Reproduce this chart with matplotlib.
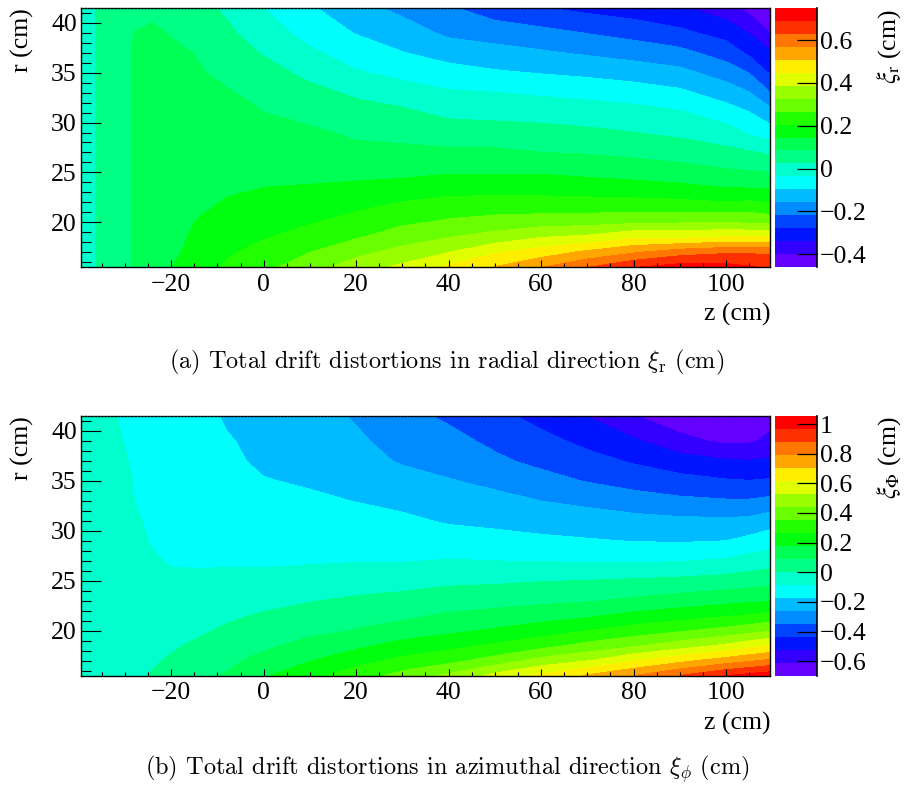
import colorsys
import numpy as np
import matplotlib
matplotlib.use("Agg")
from matplotlib import pyplot as plt
from matplotlib.ticker import MultipleLocator, FuncFormatter

plt.rcParams['font.family'] = ['Liberation Serif', 'DejaVu Serif']
plt.rcParams['mathtext.fontset'] = 'stix'

# sampling nodes (cm)
r_nodes = [15.5, 17, 18.5, 20, 21.5, 23, 25, 27, 29, 31, 33, 35, 37, 39, 41.5]
z_nodes_a = [-39.5, -37, -33, -28, -24, -20, -14, -8, 0, 10, 20, 30, 40, 50, 60, 70, 80, 90, 100, 105, 109.5]
z_nodes_b = [-39.5, -34, -30, -27, -24, -20, -14, -8, 0, 10, 20, 30, 40, 50, 60, 70, 80, 90, 100, 105, 109.5]

# (a) radial distortion xi_r (cm), one row per r node
xi_r = [
    [0.00, 0.02, 0.05, 0.09, 0.125, 0.145, 0.18, 0.215, 0.25, 0.30, 0.355, 0.40, 0.46, 0.51, 0.565, 0.625, 0.685, 0.715, 0.71, 0.695, 0.68],
    [0.00, 0.02, 0.05, 0.09, 0.115, 0.13, 0.17, 0.195, 0.23, 0.265, 0.31, 0.345, 0.385, 0.44, 0.475, 0.52, 0.56, 0.60, 0.62, 0.62, 0.62],
    [0.00, 0.02, 0.05, 0.09, 0.115, 0.125, 0.16, 0.18, 0.20, 0.235, 0.26, 0.30, 0.325, 0.35, 0.385, 0.40, 0.44, 0.435, 0.45, 0.45, 0.45],
    [0.00, 0.02, 0.05, 0.09, 0.115, 0.12, 0.15, 0.17, 0.18, 0.20, 0.23, 0.255, 0.275, 0.29, 0.30, 0.305, 0.315, 0.32, 0.325, 0.315, 0.31],
    [0.00, 0.02, 0.05, 0.09, 0.115, 0.12, 0.135, 0.155, 0.165, 0.18, 0.195, 0.22, 0.235, 0.24, 0.24, 0.24, 0.24, 0.24, 0.23, 0.24, 0.225],
    [0.00, 0.02, 0.05, 0.09, 0.115, 0.115, 0.125, 0.14, 0.15, 0.155, 0.165, 0.18, 0.195, 0.195, 0.195, 0.19, 0.185, 0.175, 0.16, 0.16, 0.16],
    [0.00, 0.02, 0.05, 0.09, 0.115, 0.115, 0.12, 0.13, 0.13, 0.13, 0.13, 0.13, 0.14, 0.14, 0.14, 0.13, 0.12, 0.11, 0.095, 0.09, 0.085],
    [0.00, 0.02, 0.05, 0.09, 0.115, 0.115, 0.115, 0.12, 0.12, 0.11, 0.10, 0.10, 0.095, 0.095, 0.085, 0.08, 0.07, 0.06, 0.04, 0.03, 0.015],
    [0.00, 0.02, 0.05, 0.09, 0.115, 0.115, 0.115, 0.11, 0.10, 0.095, 0.075, 0.065, 0.055, 0.05, 0.045, 0.035, 0.025, 0.01, -0.01, -0.045, -0.07],
    [0.00, 0.02, 0.05, 0.09, 0.115, 0.115, 0.115, 0.10, 0.085, 0.065, 0.045, 0.035, 0.01, 0.005, 0.00, -0.005, -0.015, -0.03, -0.07, -0.095, -0.135],
    [0.00, 0.02, 0.05, 0.09, 0.115, 0.115, 0.105, 0.09, 0.065, 0.04, 0.015, -0.005, -0.03, -0.035, -0.045, -0.055, -0.065, -0.085, -0.125, -0.155, -0.215],
    [0.00, 0.02, 0.05, 0.09, 0.115, 0.115, 0.09, 0.07, 0.045, 0.01, -0.03, -0.055, -0.075, -0.09, -0.10, -0.11, -0.125, -0.14, -0.185, -0.22, -0.285],
    [0.00, 0.02, 0.05, 0.09, 0.115, 0.10, 0.08, 0.05, 0.02, -0.025, -0.065, -0.095, -0.12, -0.135, -0.15, -0.165, -0.18, -0.20, -0.245, -0.29, -0.33],
    [0.00, 0.02, 0.05, 0.085, 0.095, 0.08, 0.06, 0.035, -0.005, -0.06, -0.10, -0.125, -0.17, -0.185, -0.20, -0.22, -0.24, -0.265, -0.30, -0.34, -0.40],
    [0.00, 0.02, 0.05, 0.065, 0.07, 0.06, 0.04, 0.015, -0.035, -0.09, -0.135, -0.175, -0.21, -0.25, -0.275, -0.295, -0.31, -0.33, -0.375, -0.42, -0.455],
]

# (b) azimuthal distortion xi_phi (cm)
xi_phi = [
    [-0.04, -0.03, -0.02, -0.008, 0.01, 0.035, 0.065, 0.10, 0.17, 0.24, 0.31, 0.385, 0.46, 0.555, 0.634, 0.713, 0.79, 0.879, 0.966, 0.993, 1.019],
    [-0.04, -0.035, -0.025, -0.015, -0.005, 0.013, 0.04, 0.07, 0.12, 0.175, 0.236, 0.288, 0.328, 0.39, 0.472, 0.525, 0.61, 0.678, 0.745, 0.778, 0.806],
    [-0.04, -0.04, -0.03, -0.025, -0.015, -0.007, 0.02, 0.044, 0.074, 0.122, 0.16, 0.21, 0.242, 0.28, 0.323, 0.38, 0.428, 0.485, 0.545, 0.586, 0.616],
    [-0.04, -0.04, -0.035, -0.035, -0.025, -0.022, -0.01, 0.017, 0.044, 0.07, 0.096, 0.13, 0.16, 0.19, 0.227, 0.266, 0.307, 0.343, 0.383, 0.407, 0.433],
    [-0.04, -0.045, -0.04, -0.04, -0.035, -0.037, -0.025, -0.01, 0.013, 0.035, 0.057, 0.074, 0.103, 0.12, 0.14, 0.166, 0.203, 0.23, 0.259, 0.275, 0.293],
    [-0.04, -0.045, -0.045, -0.05, -0.045, -0.05, -0.04, -0.035, -0.022, 0.0, 0.017, 0.03, 0.052, 0.061, 0.074, 0.085, 0.107, 0.131, 0.153, 0.164, 0.173],
    [-0.04, -0.05, -0.05, -0.06, -0.06, -0.07, -0.065, -0.065, -0.057, -0.049, -0.035, -0.027, -0.014, -0.009, 0.0, 0.006, 0.015, 0.024, 0.038, 0.05, 0.061],
    [-0.04, -0.055, -0.055, -0.065, -0.075, -0.09, -0.095, -0.093, -0.097, -0.092, -0.088, -0.088, -0.079, -0.084, -0.088, -0.092, -0.096, -0.088, -0.072, -0.05, -0.034],
    [-0.04, -0.06, -0.06, -0.07, -0.09, -0.10, -0.11, -0.105, -0.12, -0.11, -0.114, -0.12, -0.132, -0.14, -0.154, -0.164, -0.174, -0.179, -0.171, -0.147, -0.125],
    [-0.04, -0.06, -0.065, -0.08, -0.095, -0.105, -0.12, -0.12, -0.136, -0.13, -0.145, -0.154, -0.18, -0.193, -0.206, -0.219, -0.23, -0.24, -0.243, -0.237, -0.208],
    [-0.04, -0.065, -0.07, -0.09, -0.10, -0.11, -0.125, -0.13, -0.15, -0.158, -0.173, -0.193, -0.22, -0.237, -0.259, -0.278, -0.306, -0.328, -0.338, -0.338, -0.324],
    [-0.04, -0.065, -0.075, -0.09, -0.105, -0.115, -0.13, -0.14, -0.167, -0.18, -0.202, -0.228, -0.254, -0.276, -0.315, -0.351, -0.381, -0.405, -0.425, -0.431, -0.424],
    [-0.04, -0.07, -0.08, -0.095, -0.11, -0.12, -0.135, -0.155, -0.185, -0.197, -0.228, -0.267, -0.285, -0.33, -0.368, -0.404, -0.443, -0.482, -0.512, -0.518, -0.509],
    [-0.04, -0.07, -0.085, -0.10, -0.115, -0.125, -0.14, -0.165, -0.19, -0.21, -0.245, -0.29, -0.32, -0.364, -0.407, -0.456, -0.508, -0.583, -0.626, -0.62, -0.588],
    [-0.04, -0.075, -0.09, -0.105, -0.12, -0.13, -0.145, -0.18, -0.20, -0.228, -0.267, -0.32, -0.36, -0.407, -0.464, -0.524, -0.604, -0.66, -0.683, -0.67, -0.643],
]

# colour scale ranges (histogram min / max) and tick labels
range_a = (-0.46, 0.75)
range_b = (-0.696, 1.054)
ticks_a = [-0.4, -0.2, 0, 0.2, 0.4, 0.6]
ticks_b = [-0.6, -0.4, -0.2, 0, 0.2, 0.4, 0.6, 0.8, 1]
n_levels = 20

# ROOT "pretty" palette: 50 hues from violet to red, 20 contours picked from it
def root_palette(ndiv):
    cols = []
    for i in range(ndiv):
        idx = int((i + 0.99) * 50 / ndiv)
        hue = 280 - (idx + 1) * 280 / 50
        cols.append(colorsys.hls_to_rgb(hue / 360, 0.5, 1.0))
    return cols

palette = root_palette(n_levels)
FS = 18.5


def fmt(v, pos=None):
    if abs(v) < 1e-9:
        return '0'
    return ('%g' % v).replace('-', '\u2212')


def draw_map(ax, cax, z, r, values, vrange, ticks):
    levels = np.linspace(vrange[0], vrange[1], n_levels + 1)
    Z, R = np.meshgrid(z, r)
    cs = ax.contourf(Z, R, np.array(values), levels=levels, colors=palette)
    ax.set_xlim(-39.5, 109.5)
    ax.set_ylim(15.5, 41.5)
    ax.xaxis.set_major_locator(MultipleLocator(20))
    ax.xaxis.set_minor_locator(MultipleLocator(5))
    ax.yaxis.set_major_locator(MultipleLocator(5))
    ax.yaxis.set_minor_locator(MultipleLocator(1))
    ax.tick_params(axis='both', which='both', direction='in', top=False, right=False,
                   labelsize=FS, width=0.8)
    ax.tick_params(axis='y', which='major', length=14.5, pad=3)
    ax.tick_params(axis='y', which='minor', length=7.2)
    ax.tick_params(axis='x', which='major', length=5.4, pad=5)
    ax.tick_params(axis='x', which='minor', length=2.8)
    ax.xaxis.set_major_formatter(FuncFormatter(fmt))
    for s in ax.spines.values():
        s.set_linewidth(1.0)
    ax.spines['top'].set_linestyle((0, (1.2, 1.2)))
    ax.set_ylabel('r (cm)', fontsize=FS, loc='top')
    ax.yaxis.set_label_coords(-0.068, 1.0)
    ax.set_xlabel('z (cm)', fontsize=FS, loc='right')
    ax.xaxis.set_label_coords(1.0, -0.14)

    cb = plt.colorbar(cs, cax=cax)
    cb.outline.set_visible(False)
    cax.set_ylim(vrange)
    cb.set_ticks(ticks)
    cb.ax.yaxis.set_major_formatter(FuncFormatter(fmt))
    cax.minorticks_off()
    cax.tick_params(axis='y', direction='in', length=14.5, width=0.9, right=True, left=False,
                    labelsize=FS, pad=2)
    cax.plot([1, 1], [0, 1], transform=cax.transAxes, color='k', lw=1.2, clip_on=False)
    return cs


fig = plt.figure(figsize=(9.11, 7.85), dpi=100)
W, H = 911.0, 785.0
ax_a = fig.add_axes([81 / W, 1 - 267 / H, 689 / W, 259 / H])
cax_a = fig.add_axes([775 / W, 1 - 267 / H, 42 / W, 259 / H])
ax_b = fig.add_axes([81 / W, 1 - 675.5 / H, 689 / W, 259.5 / H])
cax_b = fig.add_axes([775 / W, 1 - 675.5 / H, 42 / W, 259.5 / H])

draw_map(ax_a, cax_a, z_nodes_a, r_nodes, xi_r, range_a, ticks_a)
draw_map(ax_b, cax_b, z_nodes_b, r_nodes, xi_phi, range_b, ticks_b)

fig.text(889 / W, 1 - 9 / H, r'$\xi_{\mathrm{r}}$ (cm)', rotation=90, ha='center', va='top', fontsize=FS)
fig.text(889 / W, 1 - 417 / H, r'$\xi_{\Phi}$ (cm)', rotation=90, ha='center', va='top', fontsize=FS)

fig.text(447 / W, 1 - 362 / H, r'(a) Total drift distortions in radial direction $\xi_{\mathrm{r}}$ (cm)',
         ha='center', va='center', fontsize=17.5, family='cmr10', math_fontfamily='cm')
fig.text(447 / W, 1 - 769 / H, r'(b) Total drift distortions in azimuthal direction $\xi_{\phi}$ (cm)',
         ha='center', va='center', fontsize=17.5, family='cmr10', math_fontfamily='cm')

fig.savefig('out.png', dpi=100)
